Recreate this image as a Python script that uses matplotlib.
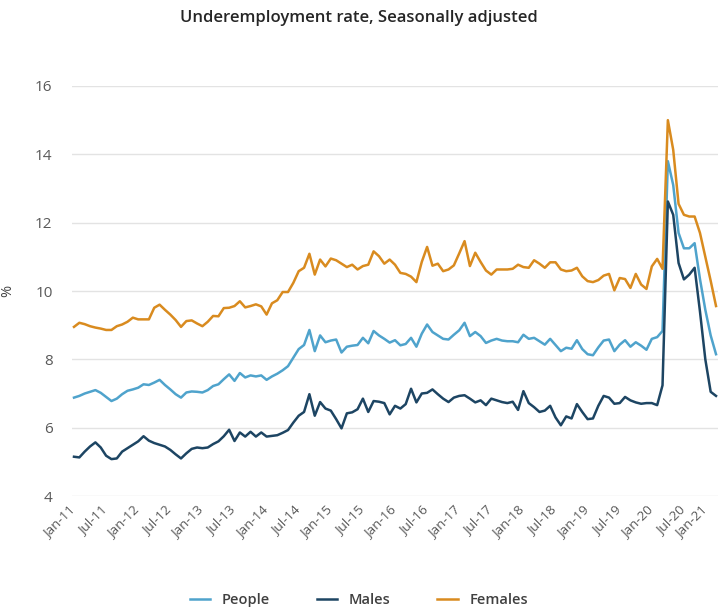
import matplotlib
matplotlib.use('Agg')
import matplotlib.pyplot as plt
import matplotlib.transforms as mtransforms
import numpy as np

plt.rcParams['font.family'] = ['Open Sans', 'DejaVu Sans']

# monthly, Jan-11 .. Jan-21
people = [
    6.88, 6.93, 7.00, 7.05, 7.10, 7.02, 6.90, 6.78, 6.85, 6.98, 7.08, 7.12,
    7.17, 7.27, 7.25, 7.32, 7.40, 7.25, 7.12, 6.98, 6.88, 7.03, 7.06, 7.05,
    7.03, 7.10, 7.22, 7.27, 7.42, 7.56, 7.37, 7.60, 7.47, 7.53, 7.50, 7.53,
    7.40, 7.50, 7.58, 7.68, 7.80, 8.05, 8.30, 8.42, 8.86, 8.24, 8.70, 8.50,
    8.55, 8.58, 8.20, 8.37, 8.40, 8.42, 8.63, 8.47, 8.83, 8.70, 8.60, 8.49,
    8.56, 8.41, 8.45, 8.63, 8.37, 8.75, 9.02, 8.80, 8.70, 8.60, 8.58, 8.72,
    8.85, 9.07, 8.68, 8.80, 8.68, 8.48, 8.55, 8.60, 8.55, 8.53, 8.53, 8.50,
    8.72, 8.60, 8.63, 8.53, 8.43, 8.60, 8.42, 8.24, 8.34, 8.31, 8.56, 8.30,
    8.15, 8.12, 8.35, 8.55, 8.58, 8.24, 8.43, 8.56, 8.37, 8.50, 8.40, 8.28,
    8.60, 8.65, 8.83, 13.80, 13.10, 11.70, 11.25, 11.25, 11.40, 10.35, 9.45, 8.70,
    8.15,
]

males = [
    5.15, 5.13, 5.30, 5.45, 5.57, 5.42, 5.18, 5.08, 5.10, 5.30, 5.40, 5.50,
    5.60, 5.75, 5.62, 5.55, 5.50, 5.45, 5.35, 5.22, 5.10, 5.25, 5.38, 5.42,
    5.40, 5.42, 5.52, 5.60, 5.75, 5.94, 5.61, 5.86, 5.74, 5.88, 5.74, 5.86,
    5.74, 5.76, 5.78, 5.85, 5.93, 6.15, 6.35, 6.46, 6.98, 6.35, 6.75, 6.56,
    6.50, 6.25, 5.98, 6.42, 6.45, 6.54, 6.85, 6.46, 6.78, 6.76, 6.72, 6.39,
    6.64, 6.56, 6.69, 7.14, 6.74, 7.00, 7.02, 7.12, 6.98, 6.85, 6.75, 6.88,
    6.93, 6.95, 6.85, 6.74, 6.80, 6.66, 6.85, 6.80, 6.75, 6.72, 6.76, 6.52,
    7.07, 6.72, 6.60, 6.46, 6.50, 6.64, 6.30, 6.07, 6.33, 6.27, 6.69, 6.46,
    6.25, 6.27, 6.64, 6.93, 6.88, 6.70, 6.72, 6.90, 6.80, 6.74, 6.70, 6.72,
    6.72, 6.66, 7.24, 12.62, 12.23, 10.82, 10.34, 10.48, 10.68, 9.40, 8.00, 7.05,
    6.93,
]

females = [
    8.95, 9.07, 9.03, 8.97, 8.93, 8.90, 8.86, 8.86, 8.97, 9.02, 9.10, 9.22,
    9.17, 9.17, 9.17, 9.51, 9.60, 9.45, 9.31, 9.15, 8.95, 9.12, 9.14, 9.05,
    8.97, 9.10, 9.27, 9.26, 9.50, 9.51, 9.56, 9.70, 9.52, 9.56, 9.61, 9.55,
    9.31, 9.64, 9.73, 9.97, 9.97, 10.24, 10.58, 10.68, 11.09, 10.48, 10.92, 10.72,
    10.95, 10.90, 10.80, 10.70, 10.77, 10.63, 10.73, 10.77, 11.16, 11.02, 10.80, 10.92,
    10.77, 10.53, 10.50, 10.42, 10.26, 10.85, 11.29, 10.74, 10.80, 10.58, 10.63, 10.75,
    11.10, 11.46, 10.73, 11.12, 10.85, 10.60, 10.48, 10.63, 10.63, 10.63, 10.65, 10.77,
    10.70, 10.68, 10.90, 10.80, 10.68, 10.84, 10.84, 10.63, 10.58, 10.60, 10.68, 10.43,
    10.29, 10.26, 10.32, 10.45, 10.50, 10.02, 10.38, 10.35, 10.09, 10.50, 10.19, 10.06,
    10.72, 10.94, 10.65, 15.00, 14.13, 12.55, 12.23, 12.18, 12.18, 11.70, 11.00, 10.30,
    9.56,
]

tick_labels = ['Jan-11', 'Jul-11', 'Jan-12', 'Jul-12', 'Jan-13', 'Jul-13', 'Jan-14',
               'Jul-14', 'Jan-15', 'Jul-15', 'Jan-16', 'Jul-16', 'Jan-17', 'Jul-17',
               'Jan-18', 'Jul-18', 'Jan-19', 'Jul-19', 'Jan-20', 'Jul-20', 'Jan-21']

months = np.arange(len(people))

fig = plt.figure(figsize=(7.18, 6.12), dpi=100)
ax = fig.add_axes([0.1003, 0.1895, 0.8997, 0.67])

ax.plot(months, people, color='#4fa3cc', lw=1.8, label='People')
ax.plot(months, males, color='#1d4563', lw=1.8, label='Males')
ax.plot(months, females, color='#d98b1f', lw=1.8, label='Females')

ax.set_ylim(4, 16)
ax.set_yticks(np.arange(4, 17, 2))
ax.set_xlim(-0.37, 120.37)
ax.set_xticks(np.arange(0, 121, 6))
ax.set_xticklabels(tick_labels, rotation=45, ha='right', rotation_mode='anchor')
ax.tick_params(axis='both', length=0, colors='#595959')
ax.tick_params(axis='y', pad=14, labelsize=11)
ax.tick_params(axis='x', pad=5, labelsize=9.6)
# nudge the rotated labels a little left; the last one a bit more so it stays inside
labels = ax.get_xticklabels()
for i, lbl in enumerate(labels):
    dx = -4 if i < len(labels) - 1 else -11
    shift = mtransforms.ScaledTranslation(dx / 72, 0, fig.dpi_scale_trans)
    lbl.set_transform(lbl.get_transform() + shift)
ax.grid(axis='y', color='#e3e3e3', lw=1)
ax.set_axisbelow(True)
for s in ax.spines.values():
    s.set_visible(False)

ax.set_ylabel('%', color='#404040', fontsize=10.5, labelpad=14)

fig.text(0.5, 0.971, 'Underemployment rate, Seasonally adjusted', ha='center', va='center',
         fontsize=12, fontweight='semibold', color='#262626')

fig.legend(loc='center', bbox_to_anchor=(0.5, 0.02), ncol=3, frameon=False,
           handlelength=1.4, columnspacing=3.2, handletextpad=0.8,
           prop={'size': 10.5, 'weight': 'semibold'}, labelcolor='#404040')

fig.savefig('out.png', dpi=100)
